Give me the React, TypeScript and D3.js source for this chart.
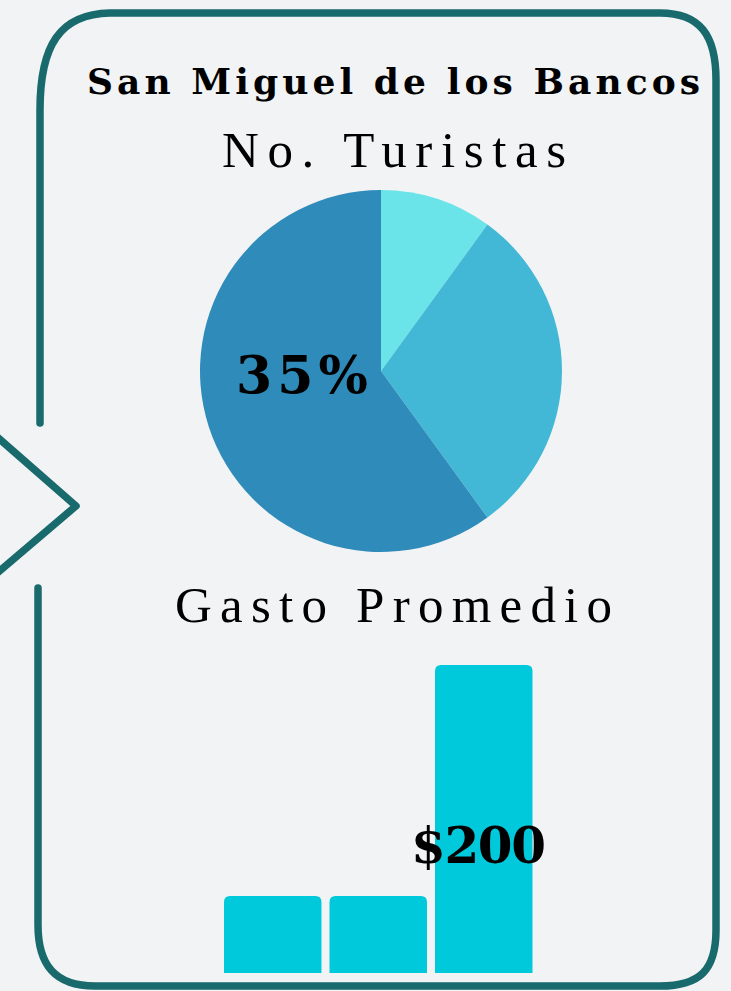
import React from 'react'
import * as d3 from 'd3'

// datos
const titulo = 'San Miguel de los Bancos'
const pieTitulo = 'No. Turistas'
const barTitulo = 'Gasto Promedio'
const turistasGrupos = ['Grupo 1', 'Grupo 2', 'Grupo 3']
const turistasValores = [10, 30, 60]
const turistasColores = ['#6ae4e8', '#43b7d6', '#2e8bba']
const pieEtiqueta = '35%'
const gastoCategorias = ['A', 'B', 'C']
const gastoValores = [50, 50, 200]
const gastoEtiqueta = '$200'

const W = 731
const H = 991
const frameColor = '#196a6c'

function topRoundedBar(x: number, y: number, w: number, h: number, r: number) {
  return `M${x},${y + h}V${y + r}Q${x},${y} ${x + r},${y}H${x + w - r}Q${x + w},${y} ${x + w},${y + r}V${y + h}Z`
}

export default function App() {
  const pie = d3.pie<number>().sort(null).value(d => d)
  const arcs = pie(turistasValores)
  const arc = d3.arc<d3.PieArcDatum<number>>().innerRadius(0).outerRadius(181)

  const x = d3.scaleBand<string>().domain(gastoCategorias).range([224, 532.5]).paddingInner(0.076).paddingOuter(0)
  const y = d3.scaleLinear().domain([0, 200]).range([973, 665])

  const framePath =
    'M40,423 L40,110 C40,45 60,14 110,13 L660,13 C700,13 716,35 716,80 ' +
    'L716,930 C716,970 700,986 660,986 L95,986 C55,986 38,965 38,925 L38,588'

  return (
    <svg width={W} height={H} style={{ position: 'fixed', left: 0, top: 0, background: '#f2f3f5' }}>
      <rect width={W} height={H} fill="#f2f3f5" />
      <path d={framePath} fill="none" stroke={frameColor} strokeWidth={7.5} strokeLinecap="round" strokeLinejoin="round" />
      <path d="M-4,436 L76,506 L-4,574" fill="none" stroke={frameColor} strokeWidth={7.5} strokeLinejoin="round" />

      <text x={87} y={94} textLength={613} lengthAdjust="spacing"
        fontFamily="'DejaVu Serif', serif" fontWeight="bold" fontSize={36} fill="#000">{titulo}</text>
      <text x={222} y={167} textLength={344} lengthAdjust="spacing"
        fontFamily="'Liberation Serif', serif" fontSize={51} fill="#000">{pieTitulo}</text>

      <g transform="translate(381,371)">
        {arcs.map((a, i) => (
          <path key={turistasGrupos[i]} d={arc(a) || ''} fill={turistasColores[i]} />
        ))}
      </g>
      <text x={236} y={393} textLength={132} lengthAdjust="spacing"
        fontFamily="'DejaVu Serif', serif" fontWeight="bold" fontSize={52} fill="#000">{pieEtiqueta}</text>

      <text x={175} y={622} textLength={437} lengthAdjust="spacing"
        fontFamily="'Liberation Serif', serif" fontSize={51} fill="#000">{barTitulo}</text>

      {gastoCategorias.map((c, i) => (
        <path key={c}
          d={topRoundedBar(x(c)!, y(gastoValores[i]), x.bandwidth(), y(0) - y(gastoValores[i]), 6)}
          fill="#00c9dc" />
      ))}
      <text x={411} y={863} textLength={135} lengthAdjust="spacing"
        fontFamily="'DejaVu Serif', serif" fontWeight="bold" fontSize={50} fill="#000">{gastoEtiqueta}</text>
    </svg>
  )
}
